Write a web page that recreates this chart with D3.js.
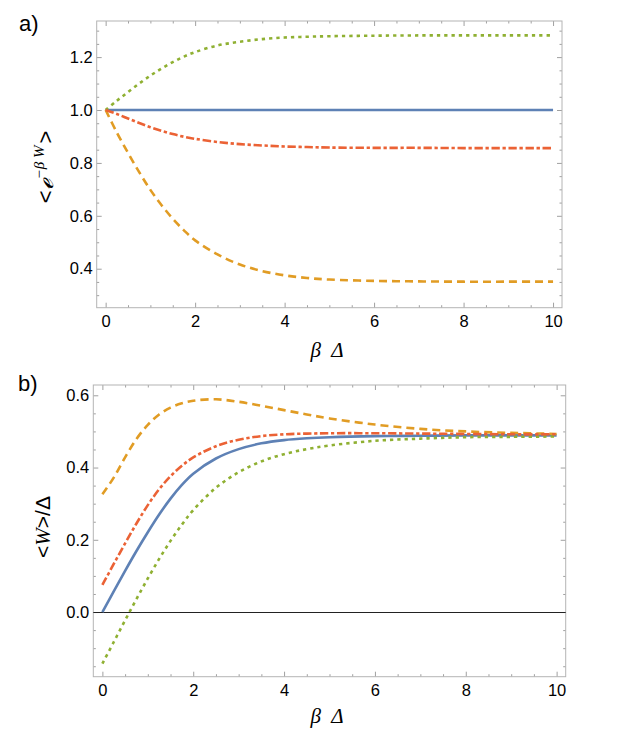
<!DOCTYPE html>
<html>
<head>
<meta charset="utf-8">
<script src="https://cdn.jsdelivr.net/npm/d3@7.9.0/dist/d3.min.js"></script>
<style>
  body { margin: 0; background: #fff; }
  svg { display: block; }
  .tick text { font-family: "Liberation Sans", Arial, sans-serif; font-size: 16.5px; fill: #000; }
  .tick line { stroke: #a0a0a0; }
</style>
</head>
<body>
<svg id="chart" width="619" height="744"></svg>
<script>
// beta*Delta sample points
const xs = [0, 0.25, 0.5, 0.75, 1, 1.25, 1.5, 1.75, 2, 2.5, 3, 3.5, 4, 4.5, 5, 6, 7, 8, 9, 10];

// panel a: <e^{-beta W}>
const aBlue   = [1, 1, 1, 1, 1, 1, 1, 1, 1, 1, 1, 1, 1, 1, 1, 1, 1, 1, 1, 1];
const aOrange = [1, 0.915, 0.838, 0.765, 0.698, 0.64, 0.589, 0.545, 0.507, 0.454, 0.416, 0.391, 0.375, 0.365, 0.359, 0.354, 0.352, 0.351, 0.351, 0.351];
const aGreen  = [1, 1.035, 1.068, 1.1, 1.13, 1.157, 1.181, 1.202, 1.219, 1.244, 1.258, 1.268, 1.274, 1.277, 1.279, 1.281, 1.282, 1.282, 1.282, 1.282];
const aRed    = [1, 0.985, 0.968, 0.951, 0.935, 0.921, 0.909, 0.899, 0.891, 0.879, 0.871, 0.866, 0.862, 0.86, 0.858, 0.857, 0.857, 0.856, 0.856, 0.856];

// panel b: <W>/Delta
const bBlue   = [0, 0.057, 0.114, 0.169, 0.221, 0.27, 0.314, 0.352, 0.383, 0.425, 0.451, 0.467, 0.476, 0.481, 0.484, 0.487, 0.488, 0.489, 0.489, 0.489];
const bOrange = [0.326, 0.372, 0.428, 0.479, 0.518, 0.547, 0.566, 0.578, 0.585, 0.589, 0.582, 0.571, 0.559, 0.547, 0.536, 0.519, 0.507, 0.5, 0.496, 0.493];
const bGreen  = [-0.143, -0.083, -0.023, 0.036, 0.093, 0.147, 0.197, 0.242, 0.282, 0.344, 0.387, 0.417, 0.437, 0.451, 0.461, 0.474, 0.48, 0.484, 0.485, 0.486];
const bRed    = [0.075, 0.133, 0.19, 0.245, 0.296, 0.34, 0.376, 0.405, 0.428, 0.459, 0.477, 0.487, 0.492, 0.494, 0.495, 0.495, 0.494, 0.493, 0.492, 0.492];

const xTicks = [0, 2, 4, 6, 8, 10];
const aYTicks = [0.4, 0.6, 0.8, 1.0, 1.2];
const bYTicks = [0.0, 0.2, 0.4, 0.6];

const colors = { blue: '#5E81B5', orange: '#E19C24', green: '#8FB032', red: '#EB6235' };
const dashes = { blue: null, orange: '8,5', green: '3.3,4', red: '8.3,2.7,3.3,2.7' };

const svg = d3.select('#chart');

function addAxis(g, axis, tr, major, minor, fmt, pad) {
  g.append('g').attr('transform', tr)
    .call(axis.tickValues(minor).tickSizeInner(-2.5).tickSizeOuter(0).tickFormat(''))
    .call((s) => s.select('.domain').remove());
  g.append('g').attr('transform', tr)
    .call(axis.tickValues(major).tickSizeInner(-5).tickSizeOuter(0).tickPadding(pad).tickFormat(fmt))
    .call((s) => s.select('.domain').remove());
}

function drawPanel(p) {
  const x = d3.scaleLinear().domain([-0.2, 10.2]).range([p.left, p.right]);
  const y = d3.scaleLinear().domain(p.yDomain).range([p.bottom, p.top]);
  const g = svg.append('g');

  const xMinor = d3.range(0, 10.01, 0.5).filter((v) => !xTicks.includes(v));
  const yMinor = d3.range(Math.ceil(p.yDomain[0] / 0.05), Math.floor(p.yDomain[1] / 0.05) + 1)
    .map((k) => +(k * 0.05).toFixed(2))
    .filter((v) => !p.yTicks.some((m) => Math.abs(m - v) < 1e-6));

  const none = () => '';
  addAxis(g, d3.axisBottom(x), `translate(0,${p.bottom})`, xTicks, xMinor, d3.format('d'), 8);
  addAxis(g, d3.axisTop(x), `translate(0,${p.top})`, xTicks, xMinor, none, 0);
  addAxis(g, d3.axisLeft(y), `translate(${p.left},0)`, p.yTicks, yMinor, d3.format('.1f'), 4);
  addAxis(g, d3.axisRight(y), `translate(${p.right},0)`, p.yTicks, yMinor, none, 0);

  g.append('rect')
    .attr('x', p.left).attr('y', p.top)
    .attr('width', p.right - p.left).attr('height', p.bottom - p.top)
    .attr('fill', 'none').attr('stroke', '#b4b4b4').attr('stroke-width', 1);

  if (p.zeroLine) {
    g.append('line')
      .attr('x1', p.left).attr('x2', p.right)
      .attr('y1', Math.round(y(0)) + 0.5).attr('y2', Math.round(y(0)) + 0.5)
      .attr('stroke', '#222').attr('stroke-width', 1);
  }

  const line = d3.line().x((d) => x(d[0])).y((d) => y(d[1])).curve(d3.curveCatmullRom.alpha(0.5));
  p.series.forEach(([key, vals]) => {
    g.append('path')
      .datum(xs.map((v, i) => [v, vals[i]]))
      .attr('d', line)
      .attr('fill', 'none')
      .attr('stroke', colors[key])
      .attr('stroke-width', 2.6)
      .attr('stroke-dasharray', dashes[key]);
  });

  g.append('text')
    .attr('x', p.labelX).attr('y', p.labelY)
    .attr('font-family', '"Liberation Sans", Arial, sans-serif')
    .attr('font-size', 22)
    .text(p.label);

  g.append('text')
    .attr('x', 327).attr('y', p.xTitleY)
    .attr('text-anchor', 'middle')
    .attr('font-family', '"Liberation Serif", "Times New Roman", serif')
    .attr('font-style', 'italic')
    .attr('font-size', 21)
    .attr('xml:space', 'preserve')
    .text('β  Δ');

  p.yTitle(g);
}

drawPanel({
  left: 96.7, right: 562, top: 21, bottom: 307.7,
  yDomain: [0.2526, 1.3365], yTicks: aYTicks,
  series: [['blue', aBlue], ['orange', aOrange], ['green', aGreen], ['red', aRed]],
  zeroLine: false,
  label: 'a)', labelX: 19, labelY: 31,
  xTitleY: 357,
  yTitle: (g) => {
    const t = g.append('text')
      .attr('transform', 'translate(53,167) rotate(-90)')
      .attr('text-anchor', 'middle')
      .attr('font-family', '"Liberation Sans", sans-serif')
      .attr('font-size', 22);
    t.append('tspan').text('<');
    t.append('tspan').attr('font-family', '"DejaVu Serif", serif').attr('font-style', 'italic')
      .attr('font-size', 24).text('ℯ');
    t.append('tspan').attr('dy', -9).attr('font-size', 15)
      .attr('font-family', '"Liberation Serif", serif').attr('font-style', 'italic')
      .attr('xml:space', 'preserve').text('−β W');
    t.append('tspan').attr('dy', 9).attr('dx', 2).text('>');
  }
});

drawPanel({
  left: 93.3, right: 565.7, top: 385, bottom: 676.7,
  yDomain: [-0.179, 0.6285], yTicks: bYTicks,
  series: [['blue', bBlue], ['orange', bOrange], ['green', bGreen], ['red', bRed]],
  zeroLine: true,
  label: 'b)', labelX: 18, labelY: 391,
  xTitleY: 723,
  yTitle: (g) => {
    const t = g.append('text')
      .attr('transform', 'translate(50,527) rotate(-90)')
      .attr('text-anchor', 'middle')
      .attr('font-family', '"Liberation Sans", sans-serif')
      .attr('font-size', 21);
    t.append('tspan').text('<');
    t.append('tspan').attr('font-family', '"Liberation Serif", serif').attr('font-style', 'italic').text('W');
    t.append('tspan').text('>/Δ');
  }
});
</script>
</body>
</html>
